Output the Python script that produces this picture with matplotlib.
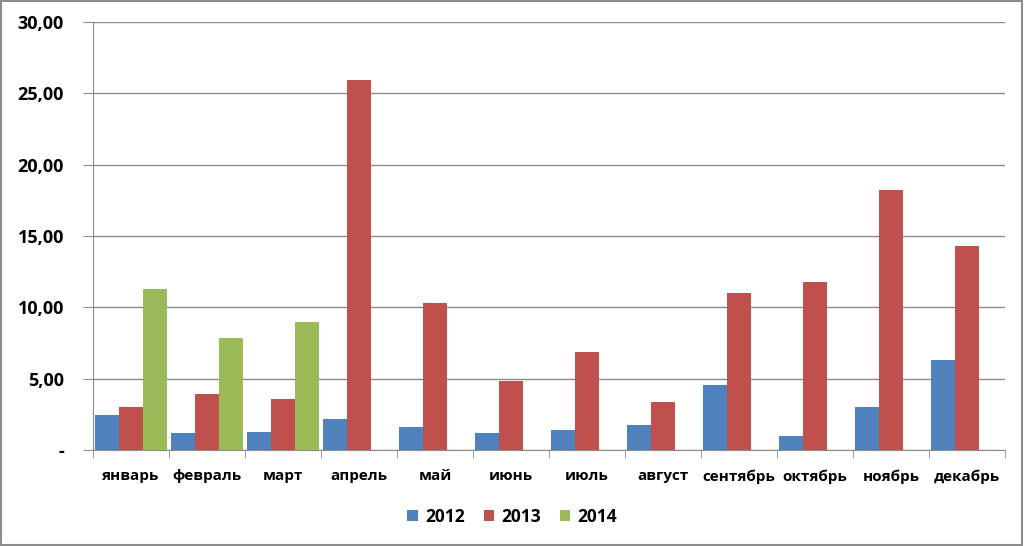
import matplotlib.pyplot as plt
import numpy as np
from matplotlib.patches import Rectangle

months = ['январь', 'февраль', 'март', 'апрель', 'май', 'июнь',
          'июль', 'август', 'сентябрь', 'октябрь', 'ноябрь', 'декабрь']
v2012 = [2.45, 1.20, 1.26, 2.17, 1.60, 1.20, 1.40, 1.75, 4.55, 1.00, 3.00, 6.30]
v2013 = [3.00, 3.90, 3.60, 25.90, 10.30, 4.83, 6.90, 3.36, 11.00, 11.80, 18.25, 14.30]
v2014 = [11.30, 7.85, 8.97]
years = ['2012', '2013', '2014']
colors = ['#4F81BD', '#C0504D', '#9BBB59']

plt.rcParams['font.family'] = ['Open Sans', 'DejaVu Sans']
plt.rcParams['font.weight'] = 'bold'

fig = plt.figure(figsize=(10.24, 5.46), dpi=100)
ax = fig.add_axes([93 / 1024, 1 - 450 / 546, 912 / 1024, 428 / 546])

x = np.arange(len(months))
w = 0.315
ax.bar(x - w, v2012, w, color=colors[0], label=years[0], align='center')
ax.bar(x, v2013, w, color=colors[1], label=years[1], align='center')
ax.bar(np.arange(len(v2014)) + w, v2014, w, color=colors[2], label=years[2], align='center')

ax.set_xlim(-0.5, len(months) - 0.5)
ax.set_ylim(0, 30)
yt = np.arange(0, 31, 5)
ax.set_yticks(yt)
ax.set_yticklabels(['-'] + ['%d,00' % v for v in yt[1:]])
ax.yaxis.grid(True, color='#8c8c8c', linewidth=1)
ax.set_axisbelow(True)

ax.set_xticks(x)
ax.set_xticklabels(months, fontsize=11)
ax.set_xticks(np.arange(-0.5, len(months)), minor=True)
ax.tick_params(axis='x', which='major', length=0, pad=14)
ax.tick_params(axis='x', which='minor', length=6, color='#8c8c8c', direction='out')
ax.tick_params(axis='y', length=7, color='#8c8c8c', pad=14, labelsize=13)

for s in ['top', 'right']:
    ax.spines[s].set_visible(False)
for s in ['left', 'bottom']:
    ax.spines[s].set_color('#8c8c8c')

fig.legend(*ax.get_legend_handles_labels(), loc='center', bbox_to_anchor=(0.5, 1 - 517 / 546),
           ncol=3, frameon=False, fontsize=12.5, handlelength=0.6, handleheight=0.6,
           handletextpad=0.4, columnspacing=1.1)

fig.patches.append(Rectangle((0.001, 0.002), 0.997, 0.996, transform=fig.transFigure,
                             fill=False, edgecolor='#8c8c8c', linewidth=1.5))

fig.savefig('out.png', dpi=100)
